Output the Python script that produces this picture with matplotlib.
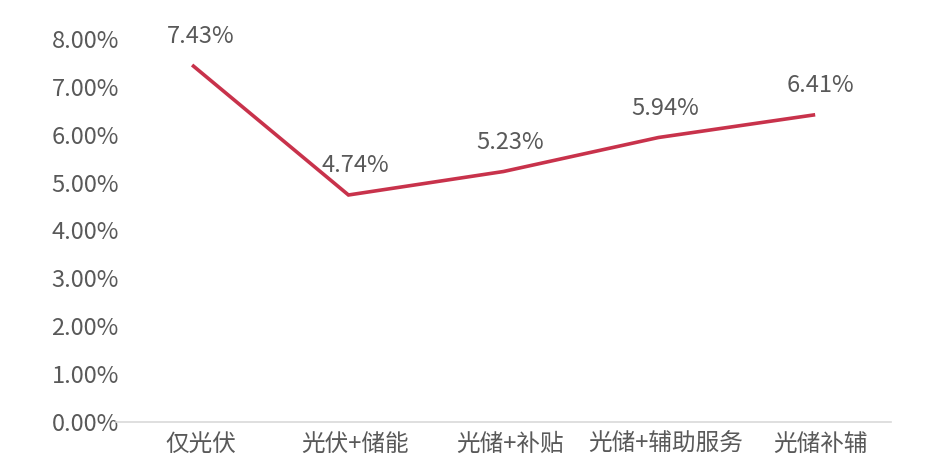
import matplotlib
matplotlib.use("Agg")
import matplotlib.pyplot as plt
import matplotlib.transforms as mtransforms
from matplotlib.ticker import FuncFormatter

plt.rcParams['font.family'] = ['Noto Sans CJK SC', 'DejaVu Sans']

# data
categories = ['仅光伏', '光伏+储能', '光储+补贴', '光储+辅助服务', '光储补辅']
values = [7.43, 4.74, 5.23, 5.94, 6.41]

line_color = '#C8324B'
text_color = '#595959'

fig = plt.figure(figsize=(9.28, 4.76), dpi=100)
ax = fig.add_axes([0.125, 0.1134, 0.835, 0.805])

x = range(len(categories))
ax.plot(x, values, color=line_color, linewidth=2.6, solid_joinstyle='miter')

for xi, v in zip(x, values):
    ax.annotate(f'{v:.2f}%', (xi, v), xytext=(5, 21), textcoords='offset points',
                ha='center', va='center', fontsize=17, color=text_color)

ax.set_xlim(-0.5, len(categories) - 0.5)
ax.set_ylim(0, 8)
ax.set_yticks([0, 1, 2, 3, 4, 5, 6, 7, 8])
ax.yaxis.set_major_formatter(FuncFormatter(lambda v, p: f'{v:.2f}%'))
ax.set_xticks(list(x))
ax.set_xticklabels(categories)

for s in ['top', 'right', 'left']:
    ax.spines[s].set_visible(False)
ax.spines['bottom'].set_color('#D9D9D9')
ax.spines['bottom'].set_linewidth(1.2)
ax.tick_params(axis='both', length=0, labelsize=17, colors=text_color)
ax.tick_params(axis='y', pad=-2)
ax.tick_params(axis='x', pad=8)

# category labels sit a little right of the data points
shift = mtransforms.ScaledTranslation(0.07, 0, fig.dpi_scale_trans)
for lbl in ax.get_xticklabels():
    lbl.set_transform(lbl.get_transform() + shift)

fig.savefig('out.png', dpi=100)
